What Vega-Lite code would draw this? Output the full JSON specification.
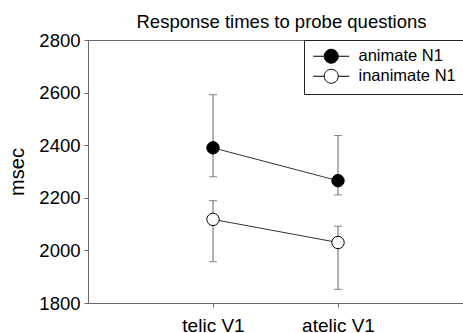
{
  "$schema": "https://vega.github.io/schema/vega-lite/v6.json",
  "width": 375,
  "height": 263,
  "autosize": {"type": "none"},
  "padding": {"left": 88, "top": 40, "right": 0, "bottom": 30},
  "background": "white",
  "title": {"text": "Response times to probe questions", "fontSize": 18.5, "font": "Liberation Sans", "fontWeight": "normal", "color": "black", "offset": 0, "anchor": "middle", "dx": 6},
  "data": {"values": [
    {"verb": "telic V1", "noun": "animate N1", "mean": 2390, "lo": 2280, "hi": 2592},
    {"verb": "telic V1", "noun": "inanimate N1", "mean": 2118, "lo": 1957, "hi": 2189},
    {"verb": "atelic V1", "noun": "animate N1", "mean": 2265, "lo": 2211, "hi": 2437},
    {"verb": "atelic V1", "noun": "inanimate N1", "mean": 2030, "lo": 1852, "hi": 2092}
  ]},
  "encoding": {
    "x": {"field": "verb", "type": "nominal", "sort": ["telic V1", "atelic V1"],
      "scale": {"type": "point", "padding": 1},
      "axis": {"title": null, "labelAngle": 0, "labelFontSize": 19, "labelPadding": 9, "tickSize": 4, "domainColor": "#666", "tickColor": "#666", "labelColor": "black", "labelFont": "Liberation Sans"}}
  },
  "layer": [
    {
      "mark": {"type": "rule", "color": "#666", "strokeWidth": 1},
      "encoding": {
        "y": {"field": "lo", "type": "quantitative"},
        "y2": {"field": "hi"}
      }
    },
    {
      "mark": {"type": "tick", "color": "#555", "size": 8, "thickness": 1},
      "encoding": {"y": {"field": "lo", "type": "quantitative"}}
    },
    {
      "mark": {"type": "tick", "color": "#555", "size": 8, "thickness": 1},
      "encoding": {"y": {"field": "hi", "type": "quantitative"}}
    },
    {
      "mark": {"type": "line", "color": "#333", "strokeWidth": 1},
      "encoding": {
        "y": {"field": "mean", "type": "quantitative"},
        "detail": {"field": "noun", "type": "nominal"}
      }
    },
    {
      "mark": {"type": "point", "shape": "circle", "filled": true, "stroke": "black", "strokeWidth": 1, "size": 154, "opacity": 1},
      "encoding": {
        "y": {"field": "mean", "type": "quantitative",
          "scale": {"domain": [1800, 2800], "nice": false, "zero": false},
          "axis": {"title": "msec", "titleFontSize": 20, "titleFontWeight": "normal", "titleFont": "Liberation Sans", "titlePadding": 11, "titleColor": "black", "format": "d",
            "values": [1800, 2000, 2200, 2400, 2600, 2800], "labelFontSize": 18.5, "labelFont": "Liberation Sans", "labelColor": "black", "labelPadding": 4, "tickSize": 4, "grid": false, "domainColor": "#666", "tickColor": "#666"}},
        "fill": {"field": "noun", "type": "nominal",
          "scale": {"domain": ["animate N1", "inanimate N1"], "range": ["black", "white"]},
          "legend": {"title": null, "orient": "none", "legendX": 216, "legendY": 0,
            "symbolType": "M-2.571,0H-1M1,0H2.571M1,0A1,1,0,1,1,-1,0A1,1,0,1,1,1,0Z",
            "symbolSize": 196, "symbolStrokeColor": "black", "symbolStrokeWidth": 1, "symbolOffset": 11,
            "labelFontSize": 16.5, "labelFont": "Liberation Sans", "labelColor": "black", "labelOffset": 19,
            "strokeColor": "#222", "padding": 8, "rowPadding": 1, "cornerRadius": 0, "fillColor": "white"}}
      }
    }
  ],
  "config": {
    "view": {"stroke": "#666", "strokeWidth": 1},
    "axis": {"grid": false}
  }
}
